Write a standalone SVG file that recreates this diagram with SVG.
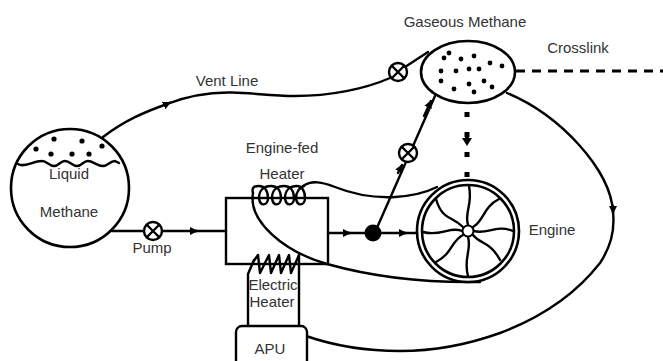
<svg xmlns="http://www.w3.org/2000/svg" width="663" height="361" viewBox="0 0 663 361">
<defs>
<marker id="arr" markerUnits="userSpaceOnUse" markerWidth="10" markerHeight="10" refX="7" refY="4" orient="auto"><path d="M0 0L8 4L0 8Z" fill="#000"/></marker>
</defs>
<style>
.l{fill:none;stroke:#000;stroke-width:2.4;stroke-linecap:round;stroke-linejoin:round}
.s{fill:#fff;stroke:#000;stroke-width:2.6}
.v{fill:#fff;stroke:#000;stroke-width:2.4}
.d{fill:#000;stroke:none}
text{font-family:"Liberation Sans",Arial,sans-serif;font-size:15px;fill:#333;text-anchor:middle}
</style>
<g id="connectors">
<path class="l" d="M103 137C125 120 145 112 167 104C190 95 210 92 232 92.5C255 93 270 96 295 96C330 96 365 89 390 78M405 67L428 52"/>
<path class="l" d="M165 105L170 102.500" marker-end="url(#arr)"/>
<path class="l" d="M112 231H226"/>
<path class="l" d="M190 231L197 231" marker-end="url(#arr)"/>
<path class="l" d="M328 233H418"/>
<path class="l" d="M343 233L350 233" marker-end="url(#arr)"/>
<path class="l" d="M399 233L406 233" marker-end="url(#arr)"/>
<path class="l" d="M376 230L435 96"/>
<path class="l" d="M398 173L402 165" marker-end="url(#arr)"/>
<path class="l" d="M424 116L431 101" marker-end="url(#arr)"/>
<path class="l" d="M303 186C312 180 322 182 335 187C355 195 375 198 395 197C410 196 425 193 437 187"/>
<path class="l" d="M253 193C248 222 285 252 327 264C370 276 425 283 480 282"/>
<path class="l" d="M306 336C335 346 365 351 400 351C440 351 475 342 500 333C540 318 575 295 600 263C610 248 615 230 613 212C611 170 560 115 507 93"/>
<path class="l" d="M613 206L613 213" marker-end="url(#arr)"/>
<path d="M516 71H663" fill="none" stroke="#000" stroke-width="2.8" stroke-dasharray="9 7"/>
<path d="M467 112V180" fill="none" stroke="#000" stroke-width="5" stroke-dasharray="5 15"/>
<path d="M467 132V143" fill="none" stroke="#000" stroke-width="4"/>
<path d="M462 138L472 138L467 146Z" fill="#000"/>
<path class="l" d="M248 325V274L254 260"/>
<path class="l" d="M299 325V255"/>
</g>
<g id="tank">
<circle cx="70" cy="188" r="59" class="s"/>
<path class="l" d="M18 164C24 168 33 161 42 161C47 161 49 166 54 166C59 166 60 161 65 161C70 161 72 166 77 166C82 166 83 161 88 161C93 161 97 166 103 166C108 166 110 161 115 161L119 163"/>
<circle cx="36" cy="149" r="2.600" class="d"/><circle cx="54" cy="139" r="2.600" class="d"/><circle cx="82" cy="141" r="2.600" class="d"/><circle cx="102" cy="146" r="2.600" class="d"/><circle cx="51" cy="154" r="2.600" class="d"/><circle cx="72" cy="154" r="2.600" class="d"/><circle cx="89" cy="154" r="2.600" class="d"/>
<text x="69" y="179">Liquid</text>
<text x="69" y="217">Methane</text>
</g>
<g id="pump">
<circle cx="153" cy="231" r="9" class="v"/>
<path class="l" d="M147 225L159 237M159 225L147 237"/>
<text x="152" y="253">Pump</text>
</g>
<g id="heater-box">
<rect x="226" y="198" width="102" height="66" fill="none" stroke="#000" stroke-width="2.4"/>
</g>
<g id="engine-fed-heater">
<text x="282" y="153">Engine-fed</text>
<text x="282" y="179">Heater</text>
<path class="l" d="M253 193C251 186 256 186 259 186C264 186 268 190 268 198C268 206 260 207 259 198C259 190 264 186 271 186C277 186 281 190 281 198C281 206 273 207 272 198C272 190 277 186 284 186C290 186 294 190 294 198C294 206 286 207 285 198C285 190 290 186 297 186C301 186 305 190 305 198C305 206 297 207 296 198C296 192 300 187 304 186"/>
</g>
<g id="electric-heater">
<path class="l" d="M253 262L258 255L260 273L269 255L271 273L279 255L281 273L289 255L291 273L299 255"/>
<text x="273" y="290">Electric</text>
<text x="272" y="307">Heater</text>
</g>
<g id="apu">
<rect x="236" y="326" width="71" height="45" rx="6" fill="#fff" stroke="#000" stroke-width="2.4"/>
<text x="270" y="354">APU</text>
</g>
<g id="junction"><circle cx="373" cy="233" r="8.500" class="d"/></g>
<g id="vent-valve">
<circle cx="398" cy="72" r="9" class="v"/>
<path class="l" d="M392 66L404 78M404 66L392 78"/>
<text x="227" y="86">Vent Line</text>
</g>
<g id="feed-valve">
<circle cx="408" cy="153" r="9" class="v"/>
<path class="l" d="M402 147L414 159M414 147L402 159"/>
</g>
<g id="gas-tank">
<ellipse cx="468" cy="72" rx="47" ry="31" class="s"/>
<g class="d">
<circle cx="449" cy="53" r="2.400"/><circle cx="444" cy="58" r="2.400"/><circle cx="461" cy="59" r="2.400"/><circle cx="474" cy="56" r="2.400"/><circle cx="490" cy="63" r="2.400"/><circle cx="502" cy="66" r="2.400"/><circle cx="441" cy="71" r="2.400"/><circle cx="456" cy="71" r="2.400"/><circle cx="469" cy="69" r="2.400"/><circle cx="479" cy="69" r="2.400"/><circle cx="441" cy="81" r="2.400"/><circle cx="454" cy="89" r="2.400"/><circle cx="469" cy="84" r="2.400"/><circle cx="484" cy="81" r="2.400"/><circle cx="492" cy="87" r="2.400"/><circle cx="474" cy="92" r="2.400"/>
</g>
<text x="465" y="27">Gaseous Methane</text>
</g>
<text id="crosslink" x="578" y="53">Crosslink</text>
<g id="engine">
<circle cx="468" cy="231" r="51" class="s"/>
<circle cx="468" cy="231" r="46" class="s"/>
<path class="l" d="M468 225C464 212 473 205 469 186"/>
<path class="l" d="M473 227C484 221 483 207 499 199"/>
<path class="l" d="M474 231C487 235 496 224 513 231"/>
<path class="l" d="M473 235C481 245 490 241 500 260"/>
<path class="l" d="M468 237C472 250 463 258 468 276"/>
<path class="l" d="M463 235C451 241 453 253 436 262"/>
<path class="l" d="M462 231C450 226 440 237 423 232"/>
<path class="l" d="M463 227C452 216 442 220 436 199"/>
<circle cx="468" cy="231" r="5.500" fill="#fff" stroke="#000" stroke-width="2"/>
<text x="552" y="235">Engine</text>
</g>
</svg>
